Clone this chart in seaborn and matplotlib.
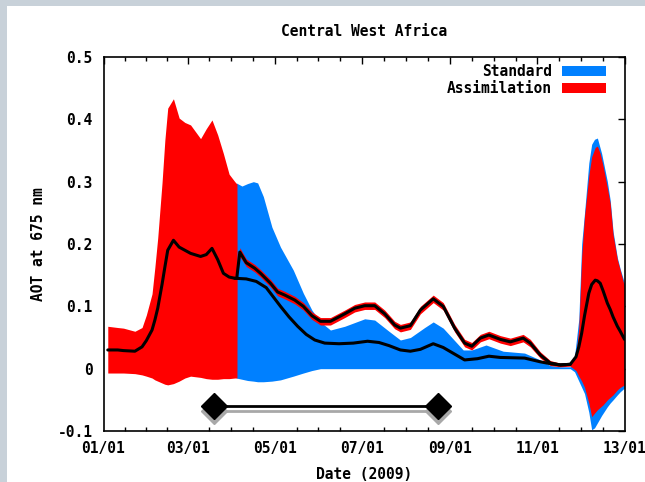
import numpy as np
import pandas as pd
import matplotlib
matplotlib.use("Agg")
import matplotlib.pyplot as plt
import seaborn as sns
from matplotlib.patches import Patch, Rectangle

# ---------------- data ----------------
title = "Central West Africa"
xlabel = "Date (2009)"
ylabel = "AOT at 675 nm"
tick_days = [0, 59, 120, 181, 243, 304, 365]
tick_labels = ["01/01", "03/01", "05/01", "07/01", "09/01", "11/01", "13/01"]
ytick_vals = [-0.1, 0, 0.1, 0.2, 0.3, 0.4, 0.5]
ytick_labels = ["-0.1", "0", "0.1", "0.2", "0.3", "0.4", "0.5"]

# Assimilation ensemble (mean and spread)
asm_day = [3, 10, 14, 22, 27, 30, 34, 36, 38, 41, 43, 45, 49, 53, 57, 61, 68, 72, 76, 80,
           84, 88, 92, 93.5, 93.6, 95.5, 100, 106, 110, 117, 122, 127, 134, 140, 146,
           152, 159, 169, 176, 183, 190, 197, 204, 208, 215, 222, 231, 238, 246, 253,
           258, 264, 270, 278, 285, 294, 299, 306, 313, 320, 327, 331, 333, 335, 337,
           340, 342, 344.5, 346, 348, 350, 353, 355, 357, 360, 362, 365]
asm_mean = [0.030, 0.030, 0.029, 0.028, 0.035, 0.045, 0.062, 0.078, 0.097, 0.135,
            0.163, 0.190, 0.206, 0.195, 0.190, 0.185, 0.180, 0.183, 0.193, 0.175,
            0.153, 0.147, 0.145, 0.145, 0.150, 0.187, 0.170, 0.161, 0.153, 0.137,
            0.123, 0.118, 0.110, 0.100, 0.085, 0.076, 0.076, 0.088, 0.097, 0.101,
            0.101, 0.088, 0.070, 0.065, 0.069, 0.094, 0.112, 0.100, 0.065, 0.041,
            0.036, 0.049, 0.054, 0.047, 0.043, 0.049, 0.041, 0.022, 0.009, 0.006,
            0.007, 0.019, 0.035, 0.057, 0.085, 0.121, 0.135, 0.142, 0.141, 0.137,
            0.125, 0.105, 0.095, 0.083, 0.068, 0.060, 0.047]
asm_low = [-0.007, -0.007, -0.007, -0.008, -0.010, -0.012, -0.015, -0.018, -0.020, -0.023,
           -0.025, -0.026, -0.024, -0.020, -0.015, -0.012, -0.014, -0.016, -0.017, -0.017,
           -0.016, -0.016, -0.015, -0.015, 0.144, 0.180, 0.164, 0.155, 0.147, 0.131,
           0.117, 0.112, 0.104, 0.094, 0.079, 0.070, 0.070, 0.082, 0.091, 0.095,
           0.095, 0.082, 0.064, 0.059, 0.063, 0.088, 0.106, 0.094, 0.059, 0.035,
           0.030, 0.043, 0.048, 0.041, 0.037, 0.043, 0.035, 0.017, 0.005, 0.003,
           0.004, -0.003, -0.012, -0.020, -0.030, -0.055, -0.077, -0.070, -0.066, -0.062,
           -0.058, -0.050, -0.046, -0.042, -0.034, -0.030, -0.026]
asm_high = [0.068, 0.066, 0.065, 0.060, 0.066, 0.086, 0.120, 0.163, 0.210, 0.298,
            0.367, 0.418, 0.433, 0.402, 0.395, 0.391, 0.369, 0.385, 0.399, 0.375,
            0.345, 0.312, 0.300, 0.296, 0.156, 0.194, 0.176, 0.167, 0.159, 0.143,
            0.129, 0.124, 0.116, 0.106, 0.091, 0.082, 0.082, 0.094, 0.103, 0.107,
            0.107, 0.094, 0.076, 0.071, 0.075, 0.100, 0.118, 0.106, 0.071, 0.047,
            0.042, 0.055, 0.060, 0.053, 0.049, 0.055, 0.047, 0.027, 0.013, 0.009,
            0.010, 0.022, 0.065, 0.180, 0.245, 0.310, 0.340, 0.355, 0.357, 0.345,
            0.325, 0.290, 0.265, 0.215, 0.175, 0.158, 0.132]

# Standard run ensemble spread
std_day = [93, 97, 101, 105, 108, 112, 118, 124, 133, 140, 146, 152, 159, 169, 183,
           190, 200, 208, 215, 225, 231, 238, 246, 252, 258, 268, 280, 295, 306, 313,
           320, 327, 330, 333, 335, 337, 340, 342, 344, 346, 349, 353, 355, 357, 360,
           362, 365]
std_low = [-0.015, -0.017, -0.019, -0.020, -0.021, -0.021, -0.020, -0.018, -0.012, -0.007,
           -0.003, 0.0, 0.0, 0.0, 0.0, 0.0, 0.0, 0.0, 0.0, 0.0,
           0.0, 0.0, 0.0, 0.0, 0.0, 0.0, 0.0, 0.0, 0.0, 0.0,
           0.0, 0.0, -0.005, -0.020, -0.030, -0.040, -0.070, -0.098, -0.095, -0.087,
           -0.075, -0.061, -0.055, -0.050, -0.042, -0.037, -0.031]
std_high = [0.298, 0.293, 0.297, 0.300, 0.298, 0.276, 0.227, 0.195, 0.158, 0.121,
            0.094, 0.075, 0.062, 0.068, 0.080, 0.078, 0.060, 0.046, 0.050, 0.066,
            0.075, 0.065, 0.045, 0.030, 0.030, 0.038, 0.028, 0.025, 0.014, 0.005,
            0.003, 0.003, 0.020, 0.080, 0.200, 0.250, 0.330, 0.360, 0.368, 0.370,
            0.345, 0.300, 0.270, 0.220, 0.178, 0.160, 0.137]
# Standard mean where it departs from the assimilation mean
std_mean_day = [92, 100, 107, 114, 120, 124, 130, 136, 142, 148, 155, 165, 175, 185, 193,
                200, 208, 215, 222, 231, 238, 247, 253, 262, 270, 278, 295, 306, 313, 320, 327]
std_mean = [0.145, 0.144, 0.140, 0.130, 0.112, 0.100, 0.083, 0.068, 0.055, 0.046,
            0.041, 0.040, 0.041, 0.044, 0.042, 0.037, 0.030, 0.028, 0.031, 0.040,
            0.034, 0.022, 0.014, 0.016, 0.020, 0.018, 0.017, 0.011, 0.008, 0.006, 0.007]

# period marker (diamonds joined by a bar)
period_days = [77.5, 234]
period_level = -0.06

legend_labels = ["Standard", "Assimilation"]
c_std = "#0080ff"
c_asm = "#ff0000"

# ---------------- plot ----------------
sns.set_theme(style="white")
plt.rcParams['font.family'] = ['DejaVu Sans Mono', 'DejaVu Sans']
plt.rcParams['font.weight'] = 'bold'
plt.rcParams['text.color'] = 'black'
plt.rcParams['axes.labelcolor'] = 'black'
FS = 10.5

W, H = 645, 482
fig = plt.figure(figsize=(W / 100, H / 100), dpi=100)
fig.patch.set_facecolor("white")
border = "#c8d1d9"
fig.patches.append(Rectangle((0, 0), 7 / W, 1, transform=fig.transFigure,
                             facecolor=border, edgecolor="none", zorder=-10))
fig.patches.append(Rectangle((0, 1 - 6 / H), 1, 6 / H, transform=fig.transFigure,
                             facecolor=border, edgecolor="none", zorder=-10))

ax = fig.add_axes([103.5 / W, (H - 431) / H, 521 / W, 374 / H])
ax.set_facecolor("white")

ax.fill_between(std_day, std_low, std_high, color=c_std, linewidth=0, zorder=1)
ax.fill_between(asm_day, asm_low, asm_high, color=c_asm, linewidth=0, zorder=2)

df_std = pd.DataFrame({"day": std_mean_day, "aot": std_mean})
df_asm = pd.DataFrame({"day": asm_day, "aot": asm_mean})
sns.lineplot(data=df_std, x="day", y="aot", color="black", linewidth=2.2,
             estimator=None, sort=False, ax=ax, zorder=3)
sns.lineplot(data=df_asm, x="day", y="aot", color="black", linewidth=2.2,
             estimator=None, sort=False, ax=ax, zorder=4)

# period marker with grey shadow
sh_dy = -0.008
ax.plot(period_days, [period_level + sh_dy] * 2, color="#a8a8a8", lw=2, zorder=5,
        solid_capstyle="butt")
ax.plot(period_days, [period_level + 0.0] * 2, color="black", lw=2, zorder=6,
        solid_capstyle="butt")
ax.plot(period_days, [period_level + sh_dy] * 2, linestyle="none", marker="D",
        markersize=13.5, color="#a8a8a8", zorder=7)
ax.plot(period_days, [period_level] * 2, linestyle="none", marker="D",
        markersize=13.5, color="black", zorder=8)

ax.set_xlim(0, 365)
ax.set_ylim(-0.1, 0.5)
ax.set_xticks(tick_days)
ax.set_xticklabels(tick_labels)
minor = []
for a, b in zip(tick_days[:-1], tick_days[1:]):
    minor += [a + (b - a) * k / 4 for k in (1, 2, 3)]
ax.set_xticks(minor, minor=True)
ax.set_yticks(ytick_vals)
ax.set_yticklabels(ytick_labels)

ax.tick_params(axis="both", which="major", direction="in", length=5, width=1,
               top=True, right=True, labelsize=FS, color="black", labelcolor="black")
ax.tick_params(axis="x", which="major", pad=7)
ax.tick_params(axis="y", which="major", pad=8)
ax.tick_params(axis="x", which="minor", direction="in", length=3, width=1,
               top=True, bottom=True, color="black")
for lab in ax.get_xticklabels() + ax.get_yticklabels():
    lab.set_fontweight("bold")
for s in ax.spines.values():
    s.set_color("black")
    s.set_linewidth(1.2)
    s.set_visible(True)

ax.set_xlabel(xlabel, fontsize=FS, fontweight="bold", labelpad=8, color="black")
ax.set_ylabel(ylabel, fontsize=FS, fontweight="bold", labelpad=8, color="black")
fig.text((103.5 + 624.5) / 2 / W, 1 - 31 / H, title, ha="center", va="center",
         fontsize=FS, fontweight="bold", color="black")

handles = [Patch(facecolor=c_std, edgecolor="none"), Patch(facecolor=c_asm, edgecolor="none")]
leg = ax.legend(handles, legend_labels, loc="upper right", frameon=False,
                markerfirst=False, fontsize=FS, handlelength=3.0, handleheight=0.7,
                handletextpad=0.7, labelspacing=0.15, borderaxespad=0.1,
                bbox_to_anchor=(1 - 11 / 521, 1.0))
for t in leg.get_texts():
    t.set_fontweight("bold")
    t.set_color("black")

fig.savefig("out.png", dpi=100, facecolor=fig.get_facecolor())
